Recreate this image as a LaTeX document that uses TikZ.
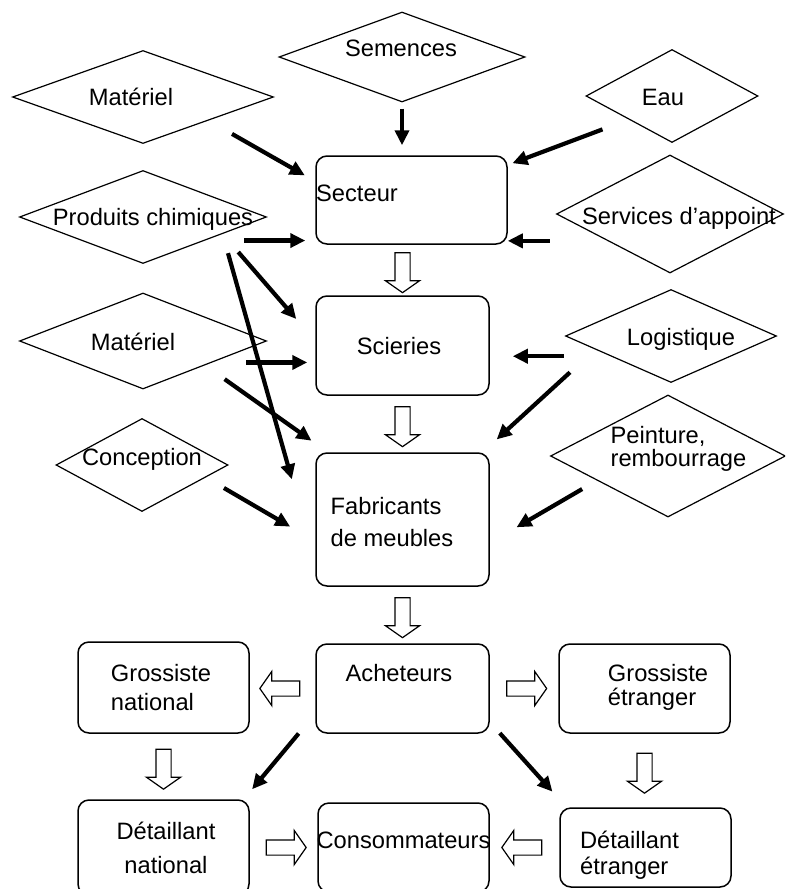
\documentclass[tikz,border=0pt]{standalone}
\usepackage{fontspec}
\setmainfont{Liberation Sans}
\usetikzlibrary{arrows.meta, shapes.geometric, shapes.arrows, calc}

\tikzset{
  lozenge/.style={diamond, draw, line width=1.2pt, inner sep=0pt},
  stage/.style={draw, rounded corners=11pt, line width=1.5pt, inner sep=0pt},
  lbl/.style={anchor=center, inner sep=0pt, font=\fontsize{23.7}{27}\selectfont, text height=17pt, text depth=0pt},
  lbls/.style={anchor=center, inner sep=0pt, font=\fontsize{23.7}{27}\selectfont},
  feed/.style={line width=4.2pt, -{Triangle[length=15pt, width=14pt]}},
  hollow/.style={single arrow, draw, line width=1.2pt, minimum height=40pt, inner sep=7pt,
    single arrow head extend=9.5pt, single arrow tip angle=110, sloped, allow upside down, midway}
}

\begin{document}
\begin{tikzpicture}[x=1pt, y=-1pt]
  \useasboundingbox (0,0) rectangle (785,889);
  \clip (0,0) rectangle (785,889);

  % inputs
  \node[lozenge, minimum width=261pt, minimum height=93pt, label={[lbl, xshift=-12pt]center:Matériel}] (mat1) at (143,97) {};
  \node[lozenge, minimum width=246pt, minimum height=90pt, label={[lbl, xshift=-1pt, yshift=9pt]center:Semences}] (sem) at (402,57) {};
  \node[lozenge, minimum width=172pt, minimum height=93pt, label={[lbl, xshift=-9pt, yshift=-1pt]center:Eau}] (eau) at (672,96) {};
  \node[lozenge, minimum width=247pt, minimum height=93pt, label={[lbl, xshift=10pt]center:Produits chimiques}] (chim) at (143,217) {};
  \node[lozenge, minimum width=227pt, minimum height=118pt, label={[lbl, xshift=9pt, yshift=-2pt]center:Services d’appoint}] (serv) at (670,214) {};
  \node[lozenge, minimum width=247pt, minimum height=96pt, label={[lbl, xshift=-10pt, yshift=-1pt]center:Matériel}] (mat2) at (143,341) {};
  \node[lozenge, minimum width=211pt, minimum height=93pt, label={[lbl, xshift=10pt, yshift=-1pt]center:Logistique}] (logi) at (671,336) {};
  \node[lozenge, minimum width=172pt, minimum height=93pt, label={[lbl, yshift=8pt]center:Conception}] (conc) at (142,465) {};
  \node[lozenge, minimum width=235pt, minimum height=122pt, label={[lbls, align=left, xshift=10.5pt, yshift=7.5pt]center:{Peinture,\\[-4pt]rembourrage}}] (pein) at (668,456) {};

  % chain
  \node[stage, minimum width=191pt, minimum height=88pt, label={[lbl, xshift=-54.5pt, yshift=7pt]center:Secteur}] (sect) at (411.5,200) {};
  \node[stage, minimum width=173pt, minimum height=99pt, label={[lbl, xshift=-3.5pt]center:Scieries}] (sci) at (402.5,345.5) {};
  \node[stage, minimum width=173pt, minimum height=133pt, label={[lbls, align=left, xshift=-10.5pt, yshift=-2.5pt]center:{Fabricants\\[5pt]de meubles}}] (fab) at (402.5,519.5) {};
  \node[stage, minimum width=173pt, minimum height=89pt, label={[lbl, xshift=-3.5pt, yshift=15.5pt]center:Acheteurs}] (ach) at (402.5,688.5) {};
  \node[stage, minimum width=171pt, minimum height=91pt, label={[lbls, align=left, xshift=-2.5pt]center:{Grossiste\\[2pt]national}}] (gnat) at (163.5,687.5) {};
  \node[stage, minimum width=171pt, minimum height=89pt, label={[lbls, align=left, xshift=13.5pt, yshift=1.5pt]center:{Grossiste\\[-3pt]étranger}}] (getr) at (644.5,688.5) {};
  \node[stage, minimum width=171pt, minimum height=95pt, label={[lbls, align=center, xshift=2.5pt]center:{Détaillant\\[7pt]national}}] (dnat) at (163.5,847.5) {};
  \node[stage, minimum width=171pt, minimum height=89pt, label={[lbl, yshift=7.5pt]center:Consommateurs}] (conso) at (403.5,847.5) {};
  \node[stage, minimum width=171pt, minimum height=79pt, label={[lbls, align=left, xshift=-16pt, yshift=-8pt]center:{Détaillant\\[-1pt]étranger}}] (detr) at (645.5,847.5) {};

  % feeds into Secteur
  \draw[feed, shorten <=6pt, shorten >=10pt] (sem.south) -- (sem.south |- sect.north);
  \draw[feed, shorten <=27pt, shorten >=12pt] (mat1.south east) -- (sect.169);
  \draw[feed, shorten <=28pt, shorten >=5pt] (eau.south west) -- (sect.20);
  \draw[feed, shorten <=39pt, shorten >=10pt] (chim.south east) -- (chim.south east -| sect.west);
  \draw[feed, shorten <=6pt] (serv.west |- sect.-23) -- (sect.-23);

  % feeds into Scieries
  \draw[feed, shorten <=24pt, shorten >=29pt] (chim.-12) -- (sci.177);
  \draw[feed, shorten <=41pt, shorten >=8pt] (mat2.south east |- sci.191) -- (sci.191);
  \draw[feed, shorten <=1pt, shorten >=23pt] (logi.west |- sci.-7) -- (sci.-7);

  % feeds into Fabricants
  \draw[feed, shorten <=20pt, shorten >=86pt] (chim.-12) -- (fab.206);
  \draw[feed, shorten <=24pt, shorten >=20pt] (mat2.south east) -- (fab.138);
  \draw[feed, shorten <=21pt, shorten >=29pt] (conc.-11) -- (fab.194);
  \draw[feed, shorten <=34pt, shorten >=19pt] (logi.190) -- (fab.40);
  \draw[feed, shorten <=17pt, shorten >=31pt] (pein.199) -- (fab.-15);

  % distribution
  \draw[feed, shorten <=26pt, shorten >=13pt] (ach.196) -- (dnat.31);
  \draw[feed, shorten <=15pt, shorten >=21pt] (ach.-21) -- (detr.153);

  % hollow flow arrows
  \path (sci.north |- sect.south) -- (sci.north) node[hollow] {};
  \path (sci.south) -- (fab.north) node[hollow] {};
  \path (fab.south) -- (ach.north) node[hollow] {};
  \path (ach.west) -- (ach.west -| gnat.east) node[hollow] {};
  \path (ach.east) -- (ach.east -| getr.west) node[hollow] {};
  \path (gnat.south) -- (gnat.south |- dnat.north) node[hollow] {};
  \path (getr.south) -- (getr.south |- detr.north) node[hollow] {};
  \path (dnat.east |- detr.west) -- (conso.west |- detr.west) node[hollow] {};
  \path (detr.west) -- (conso.east |- detr.west) node[hollow] {};
\end{tikzpicture}
\end{document}
